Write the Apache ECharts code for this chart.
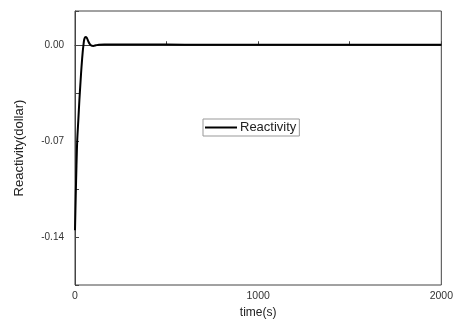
<!DOCTYPE html>
<html><head><meta charset="utf-8">
<script src="https://cdn.jsdelivr.net/npm/echarts@6/dist/echarts.min.js"></script>
<style>html,body{margin:0;padding:0;background:#fff}#c{width:456px;height:324px}</style>
</head><body><div id="c"></div>
<script>
const seriesName = 'Reactivity';
const timeS = [0,4,8,12,18,24,30,36,42,46,50,55,60,66,72,80,90,100,115,130,160,200,300,500,700,1000,1300,1600,2000];
const reactivity = [-0.135,-0.11,-0.088,-0.07,-0.055,-0.04,-0.027,-0.015,-0.005,0.0,0.004,0.0058,0.006,0.005,0.003,0.001,-0.0003,-0.0005,0.0,0.0004,0.0006,0.0006,0.0005,0.0005,0.0004,0.0004,0.0004,0.0004,0.0004];
const xLabels = [0,1000,2000];
const yLabels = [0,-0.07,-0.14];

const chart = echarts.init(document.getElementById('c'));
const font = 'Liberation Sans, Arial, sans-serif';
chart.setOption({
  animation:false,
  backgroundColor:'#fff',
  grid:{left:75,right:11,top:11,bottom:39,show:true,borderColor:'#444',borderWidth:1},
  legend:{data:[seriesName],left:203,top:119,itemWidth:32,itemHeight:2,itemGap:4,
    padding:[2,3,2,2],borderColor:'#999',borderWidth:1,
    icon:'rect',textStyle:{fontFamily:font,fontSize:13,color:'#222',padding:[0,0,0,-2]}},
  xAxis:{type:'value',min:0,max:2000,interval:500,name:'time(s)',nameLocation:'middle',nameGap:21,
    nameTextStyle:{fontFamily:font,fontSize:12,color:'#222'},
    axisLine:{lineStyle:{color:'#444',width:1}},
    axisTick:{inside:true,length:4,lineStyle:{color:'#444'}},
    splitLine:{show:false},
    axisLabel:{fontFamily:font,fontSize:10.5,color:'#333',margin:6,
      formatter:v=>xLabels.includes(v)?String(v):''}},
  yAxis:{type:'value',min:-0.175,max:0.025,interval:0.035,name:'Reactivity(dollar)',nameLocation:'middle',nameGap:49,
    nameTextStyle:{fontFamily:font,fontSize:13,color:'#222'},
    axisLine:{lineStyle:{color:'#444',width:1}},
    axisTick:{inside:true,length:4,lineStyle:{color:'#444'}},
    splitLine:{show:false},
    axisLabel:{fontFamily:font,fontSize:10,color:'#333',margin:11,
      formatter:v=>{const m=yLabels.find(l=>Math.abs(l-v)<1e-6);return m===undefined?'':m.toFixed(2);}}},
  series:[{name:seriesName,type:'line',data:timeS.map((t,i)=>[t,reactivity[i]]),
    smooth:0.3,showSymbol:false,lineStyle:{color:'#000',width:2},itemStyle:{color:'#000'}}]
});
</script></body></html>
